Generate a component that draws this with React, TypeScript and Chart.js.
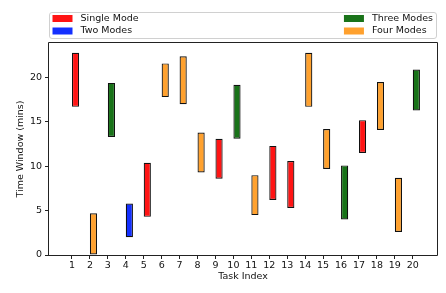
import React, { useEffect, useRef } from "react";
import { Chart, registerables } from "chart.js";

Chart.register(...registerables);

const tasks = [1, 2, 3, 4, 5, 6, 7, 8, 9, 10, 11, 12, 13, 14, 15, 16, 17, 18, 19, 20];
const taskModes = [
  "Single Mode", "Four Modes", "Three Modes", "Two Modes", "Single Mode",
  "Four Modes", "Four Modes", "Four Modes", "Single Mode", "Three Modes",
  "Four Modes", "Single Mode", "Single Mode", "Four Modes", "Four Modes",
  "Three Modes", "Single Mode", "Four Modes", "Four Modes", "Three Modes",
];
const windowStart = [16.7, 0, 13.3, 2.0, 4.3, 17.8, 17.0, 9.3, 8.6, 13.1, 4.5, 6.2, 5.3, 16.7, 9.7, 4.0, 11.5, 14.1, 2.6, 16.3];
const windowEnd = [22.8, 4.7, 19.4, 5.8, 10.4, 21.6, 22.4, 13.8, 13.1, 19.2, 9.0, 12.3, 10.6, 22.8, 14.2, 10.1, 15.2, 19.5, 8.7, 20.9];
const modeNames = ["Single Mode", "Two Modes", "Three Modes", "Four Modes"];
const modeColors = ["rgba(255,0,0,0.92)", "rgba(0,30,255,0.92)", "rgba(0,100,0,0.9)", "rgba(255,140,0,0.82)"];
const yTicks = [0, 5, 10, 15, 20];

const BAR_OFFSET = 0.2; // bars drawn from x to x+0.4 (edge-aligned)
const FONT = "DejaVu Sans";
const FS = 9.5;

const legendPlugin = {
  id: "boxLegend",
  afterDraw(chart: any) {
    const { ctx, chartArea: ca } = chart;
    ctx.save();
    const top = 12, h = 26;
    ctx.beginPath();
    if (ctx.roundRect) ctx.roundRect(ca.left + 0.5, top + 0.5, ca.right - ca.left - 1, h, 2.5);
    else ctx.rect(ca.left + 0.5, top + 0.5, ca.right - ca.left - 1, h);
    ctx.fillStyle = "rgba(255,255,255,0.9)";
    ctx.fill();
    ctx.strokeStyle = "#d0d0d0";
    ctx.lineWidth = 1;
    ctx.stroke();
    ctx.font = `${FS}px "${FONT}"`;
    ctx.textBaseline = "middle";
    ctx.fillStyle = "#111";
    const rows = [18.5, 31];
    const cols = [[0, 1], [2, 3]];
    const rightW = Math.max(ctx.measureText(modeNames[2]).width, ctx.measureText(modeNames[3]).width);
    const colX = [ca.left + 3.5, ca.right - 4 - rightW - 28];
    cols.forEach((col, ci) => {
      col.forEach((mi, ri) => {
        const x = colX[ci];
        const y = rows[ri];
        ctx.fillStyle = modeColors[mi];
        ctx.fillRect(x, y - 3.5, 20, 7);
        ctx.fillStyle = "#111";
        ctx.textAlign = "left";
        ctx.fillText(modeNames[mi], x + 28, y);
      });
    });
    ctx.restore();
  },
};

const framePlugin = {
  id: "frame",
  afterDatasetsDraw(chart: any) {
    const { ctx, chartArea: ca } = chart;
    ctx.save();
    ctx.strokeStyle = "#222";
    ctx.lineWidth = 1;
    ctx.beginPath();
    const l = Math.round(ca.left) - 0.5;
    const r = Math.round(ca.right) + 0.5;
    const t = Math.round(ca.top) - 0.5;
    const b = Math.round(ca.bottom) + 0.5;
    ctx.moveTo(l, b);
    ctx.lineTo(l, t);
    ctx.lineTo(r, t);
    ctx.lineTo(r, b);
    ctx.lineTo(l, b);
    ctx.stroke();
    ctx.restore();
  },
};

export default function App() {
  const ref = useRef<HTMLCanvasElement | null>(null);
  useEffect(() => {
    if (!ref.current) return;
    Chart.defaults.font.family = FONT;
    Chart.defaults.font.size = FS;
    Chart.defaults.color = "#111";
    const datasets = modeNames.map((name, mi) => ({
      label: name,
      data: tasks
        .map((t, i) => ({ t, i }))
        .filter(({ i }) => taskModes[i] === name)
        .map(({ t, i }) => ({ x: t + BAR_OFFSET, y: [windowStart[i], windowEnd[i]] })),
      backgroundColor: modeColors[mi],
      borderColor: "#111",
      borderWidth: 1.2,
      borderSkipped: false,
      grouped: false,
      barPercentage: 0.4,
      categoryPercentage: 1,
    }));
    const chart = new Chart(ref.current, {
      type: "bar",
      data: { datasets: datasets as any },
      options: {
        animation: false,
        responsive: true,
        maintainAspectRatio: false,
        layout: { padding: { top: 43, right: 9, left: 0, bottom: 0 } },
        plugins: { legend: { display: false }, tooltip: { enabled: false } },
        scales: {
          x: {
            type: "linear",
            offset: false,
            min: -0.28,
            max: 21.35,
            afterBuildTicks: (s: any) => { s.ticks = tasks.map((v) => ({ value: v })); },
            afterFit: (s: any) => { s.height = 38; },
            grid: { display: true, drawOnChartArea: false, drawTicks: true, tickLength: 4, tickColor: "#222", offset: false },
            border: { display: false },
            ticks: { padding: 1, color: "#111", maxRotation: 0, autoSkip: false, font: { size: FS } },
            title: { display: true, text: "Task Index", color: "#111", font: { size: FS }, padding: { top: 11, bottom: 11 } },
          },
          y: {
            type: "linear",
            min: 0,
            max: 23.9,
            afterBuildTicks: (s: any) => { s.ticks = yTicks.map((v) => ({ value: v })); },
            afterFit: (s: any) => { s.width = 49; },
            grid: { display: true, drawOnChartArea: false, drawTicks: true, tickLength: 4, tickColor: "#222" },
            border: { display: false },
            ticks: { padding: 3, color: "#111", font: { size: FS } },
            title: { display: true, text: "Time Window (mins)", color: "#111", font: { size: FS }, padding: { top: 15, bottom: 15 } },
          },
        },
      },
      plugins: [legendPlugin, framePlugin],
    });
    return () => chart.destroy();
  }, []);
  return (
    <div style={{ position: "fixed", left: 0, top: 0, width: 446, height: 293, background: "#fff" }}>
      <canvas ref={ref} />
    </div>
  );
}
